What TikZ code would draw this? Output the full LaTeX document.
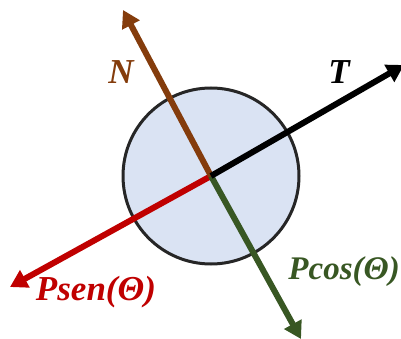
\documentclass[tikz,border=0pt]{standalone}
\usepackage{fontspec}
\setmainfont{Liberation Serif}
\usetikzlibrary{arrows.meta}
\definecolor{nbrown}{RGB}{132,60,12}
\definecolor{pred}{RGB}{192,0,0}
\definecolor{pgreen}{RGB}{56,87,35}
\definecolor{ballfill}{RGB}{218,227,243}
\definecolor{balledge}{RGB}{38,38,38}
\tikzset{
  force/.style={line width=6pt,-{Triangle[length=17pt,width=19pt]}},
  lbl/.style={font=\fontsize{35}{40}\selectfont\bfseries\itshape,inner sep=0pt}
}
\begin{document}
\begin{tikzpicture}[x=1pt,y=-1pt]
\useasboundingbox (0,0) rectangle (401,339);
\fill[white] (0,0) rectangle (401,339);
\node[circle,draw=balledge,fill=ballfill,line width=3pt,minimum size=176pt,inner sep=0pt] (ball) at (211,176) {};
\coordinate (c) at (211,176);
\coordinate (ntip) at (123,10);
\coordinate (ttip) at (404,65);
\coordinate (stip) at (10,287);
\coordinate (ptip) at (301,339);
\draw[force,pred] (c) -- (stip);
\draw[force,pgreen] (c) -- (ptip);
\draw[force,nbrown] (c) -- (ntip);
\draw[force,black] (c) -- (ttip);
\node[lbl,text=nbrown] (nl) at (121,72) {N};
\node[lbl,text=black] (tl) at (339,72) {T};
\node[lbl,text=pred] (sl) at (96,292) {Psen(Θ)};
\node[lbl,text=pgreen,anchor=east,font=\fontsize{33}{38}\selectfont\bfseries\itshape] (pl) at (400,272) {Pcos(Θ)};
\end{tikzpicture}
\end{document}
